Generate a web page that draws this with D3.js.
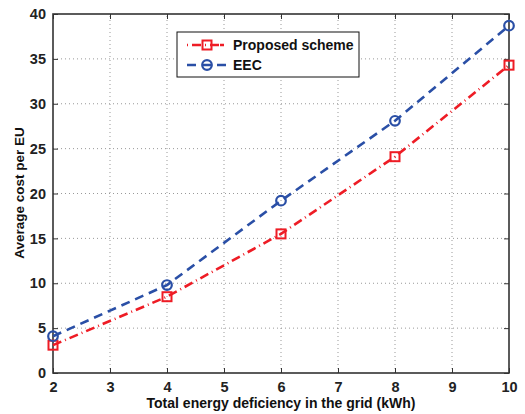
<!DOCTYPE html>
<html>
<head>
<meta charset="utf-8">
<script src="https://cdn.jsdelivr.net/npm/d3@7"></script>
<style>
  body { margin: 0; background: #fff; }
  svg text { font-family: "Liberation Sans", Arial, sans-serif; font-weight: bold; }
</style>
</head>
<body>
<svg id="chart" width="525" height="414"></svg>
<script>
const xValues = [2, 4, 6, 8, 10];
const proposed = [3.1, 8.5, 15.5, 24.1, 34.3];
const eec = [4.1, 9.8, 19.2, 28.1, 38.7];
const xTicks = [2, 3, 4, 5, 6, 7, 8, 9, 10];
const yTicks = [0, 5, 10, 15, 20, 25, 30, 35, 40];

const margin = { top: 14, right: 16, bottom: 41, left: 53 };
const width = 525, height = 414;

const svg = d3.select('#chart');

const x = d3.scaleLinear().domain([2, 10]).range([margin.left, width - margin.right]);
const y = d3.scaleLinear().domain([0, 40]).range([height - margin.bottom, margin.top]);

// dotted grid
const grid = svg.append('g');
grid.selectAll('line.gx').data(xTicks.slice(1, -1)).enter().append('line')
  .attr('x1', d => x(d)).attr('x2', d => x(d))
  .attr('y1', y(0)).attr('y2', y(40))
  .attr('stroke', '#999').attr('stroke-width', 1).attr('stroke-dasharray', '1,3');
grid.selectAll('line.gy').data(yTicks.slice(1, -1)).enter().append('line')
  .attr('x1', x(2)).attr('x2', x(10))
  .attr('y1', d => y(d)).attr('y2', d => y(d))
  .attr('stroke', '#999').attr('stroke-width', 1).attr('stroke-dasharray', '1,3');

// axes with inward ticks
svg.append('g')
  .attr('transform', `translate(0,${y(0)})`)
  .call(d3.axisBottom(x).tickValues(xTicks).tickSize(-5).tickPadding(9).tickSizeOuter(0))
  .call(g => g.select('.domain').remove());
svg.append('g')
  .attr('transform', `translate(${x(2)},0)`)
  .call(d3.axisLeft(y).tickValues(yTicks).tickSize(-5).tickPadding(7).tickSizeOuter(0))
  .call(g => g.select('.domain').remove());
svg.append('g')
  .attr('transform', `translate(0,${y(40)})`)
  .call(d3.axisTop(x).tickValues(xTicks).tickSize(-5).tickFormat('').tickSizeOuter(0))
  .call(g => g.select('.domain').remove());
svg.append('g')
  .attr('transform', `translate(${x(10)},0)`)
  .call(d3.axisRight(y).tickValues(yTicks).tickSize(-5).tickFormat('').tickSizeOuter(0))
  .call(g => g.select('.domain').remove());

svg.selectAll('.tick line').attr('stroke', '#333').attr('stroke-width', 1);
svg.selectAll('.tick text').attr('font-size', 14.5).attr('fill', '#222')
  .style('font-family', '"Liberation Sans", Arial, sans-serif').style('font-weight', 'bold');

svg.append('rect')
  .attr('x', x(2)).attr('y', y(40))
  .attr('width', x(10) - x(2)).attr('height', y(0) - y(40))
  .attr('fill', 'none').attr('stroke', '#333').attr('stroke-width', 1.6);

const red = '#ee1c25', blue = '#2a4fa6';
const line = d3.line().x((d, i) => x(xValues[i])).y(d => y(d));

svg.append('path').datum(proposed).attr('d', line)
  .attr('fill', 'none').attr('stroke', red).attr('stroke-width', 2.6)
  .attr('stroke-dasharray', '9,4,1,4');
svg.append('path').datum(eec).attr('d', line)
  .attr('fill', 'none').attr('stroke', blue).attr('stroke-width', 2.6)
  .attr('stroke-dasharray', '9,6');

svg.append('g').selectAll('rect').data(proposed).enter().append('rect')
  .attr('x', (d, i) => x(xValues[i]) - 4.5).attr('y', d => y(d) - 4.5)
  .attr('width', 9).attr('height', 9)
  .attr('fill', 'none').attr('stroke', red).attr('stroke-width', 2);
svg.append('g').selectAll('circle').data(eec).enter().append('circle')
  .attr('cx', (d, i) => x(xValues[i])).attr('cy', d => y(d)).attr('r', 4.8)
  .attr('fill', 'none').attr('stroke', blue).attr('stroke-width', 2.2);

// legend
const lg = svg.append('g');
lg.append('rect').attr('x', 177).attr('y', 32).attr('width', 182).attr('height', 45)
  .attr('fill', '#fff').attr('stroke', '#111').attr('stroke-width', 1);
lg.append('line').attr('x1', 187).attr('x2', 227).attr('y1', 45).attr('y2', 45)
  .attr('stroke', red).attr('stroke-width', 2.6).attr('stroke-dasharray', '1,4,9,4,1,4,9');
lg.append('rect').attr('x', 202.5).attr('y', 40.5).attr('width', 9).attr('height', 9)
  .attr('fill', 'none').attr('stroke', red).attr('stroke-width', 2);
lg.append('line').attr('x1', 187).attr('x2', 227).attr('y1', 65).attr('y2', 65)
  .attr('stroke', blue).attr('stroke-width', 2.6).attr('stroke-dasharray', '9,6');
lg.append('circle').attr('cx', 207).attr('cy', 65).attr('r', 4.8)
  .attr('fill', 'none').attr('stroke', blue).attr('stroke-width', 2.2);
lg.append('text').attr('x', 233).attr('y', 50).attr('font-size', 14).attr('fill', '#111').text('Proposed scheme');
lg.append('text').attr('x', 233).attr('y', 70).attr('font-size', 14).attr('fill', '#111').text('EEC');

// axis labels
svg.append('text').attr('x', 281).attr('y', 408)
  .attr('text-anchor', 'middle').attr('font-size', 14).attr('fill', '#111')
  .text('Total energy deficiency in the grid (kWh)');
svg.append('text').attr('transform', `translate(24,193) rotate(-90)`)
  .attr('text-anchor', 'middle').attr('font-size', 13.5).attr('fill', '#111')
  .text('Average cost per EU');
</script>
</body>
</html>
